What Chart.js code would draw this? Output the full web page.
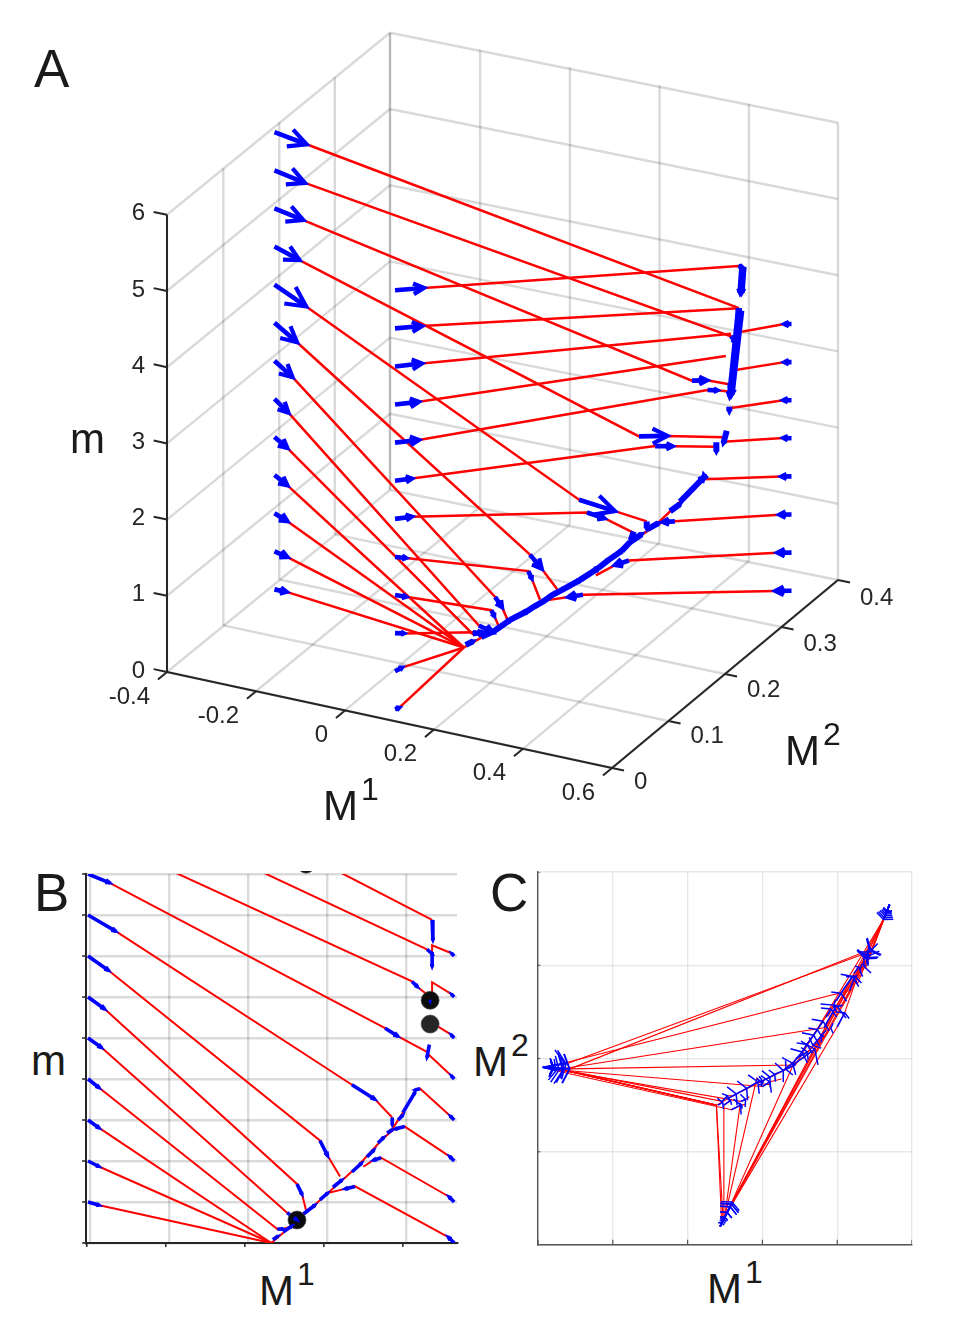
<!DOCTYPE html>
<html>
<head>
<meta charset="utf-8">
<title>Trajectories in M1, M2, m</title>
<script src="https://cdn.jsdelivr.net/npm/chart.js@4/dist/chart.umd.js"></script>
<style>
  html, body { margin: 0; padding: 0; background: #fff; width: 957px; height: 1338px; overflow: hidden; }
  canvas { position: absolute; }
  #chartA { left: 0; top: 0; }
  #chartB { left: 70px; top: 871px; }
  #chartC { left: 530px; top: 864px; }
  .lab { position: absolute; font-family: "Liberation Sans", sans-serif; font-size: 42px; line-height: 1; color: #1a1a1a; white-space: nowrap; }
  .lab span { font-size: 32px; position: relative; top: -20px; margin-left: 3px; }
  .panel { font-size: 53px; }
</style>
</head>
<body>
<canvas id="chartA" width="957" height="850"></canvas>
<canvas id="chartB" width="400" height="384"></canvas>
<canvas id="chartC" width="392" height="390"></canvas>

<div class="lab panel" style="left:34px;top:42px">A</div>
<div class="lab panel" style="left:34px;top:866px">B</div>
<div class="lab panel" style="left:490px;top:866px">C</div>
<div class="lab" style="left:70px;top:418px">m</div>
<div class="lab" style="left:323px;top:785px">M<span>1</span></div>
<div class="lab" style="left:785px;top:730px">M<span>2</span></div>
<div class="lab" style="left:31px;top:1040px">m</div>
<div class="lab" style="left:259px;top:1270px">M<span>1</span></div>
<div class="lab" style="left:473px;top:1041px">M<span>2</span></div>
<div class="lab" style="left:707px;top:1268px">M<span>1</span></div>

<script>
// axis ticks
const m1Ticks = [-0.4, -0.2, 0, 0.2, 0.4, 0.6]
const m2Ticks = [0, 0.1, 0.2, 0.3, 0.4]
const mTicks = [0, 1, 2, 3, 4, 5, 6]
const m1Labels = ['-0.4', '-0.2', '0', '0.2', '0.4', '0.6']
const m2Labels = ['0', '0.1', '0.2', '0.3', '0.4']
const mLabels = ['0', '1', '2', '3', '4', '5', '6']
const zoomM1Ticks = [-0.4, -0.2, 0, 0.2, 0.4]
const zoomMTicks = [0, 0.5, 1, 1.5, 2, 2.5, 3, 3.5, 4, 4.5]

// every path is a list of [M1, M2, m] vertices
// even segments are drawn as blue arrows, odd segments as red lines
const leftPaths = [
  [[-0.387, 0.181, 6], [-0.315, 0.181, 5.93], [0.484, 0.316, 3.94]],
  [[-0.387, 0.181, 5.5], [-0.325, 0.186, 5.38], [0.471, 0.312, 3.58], [0.484, 0.311, 3.53]],
  [[-0.387, 0.181, 5], [-0.33, 0.187, 4.88], [0.433, 0.273, 3.19], [0.448, 0.288, 3.12], [0.479, 0.305, 3.0]],
  [[-0.387, 0.181, 4.5], [-0.331, 0.181, 4.39], [0.365, 0.233, 2.62], [0.398, 0.257, 2.52], [0.471, 0.2995, 2.33]],
  [[-0.387, 0.181, 4], [-0.316, 0.181, 3.8], [0.281, 0.193, 1.93], [0.34, 0.21, 1.75], [0.383, 0.2325, 1.53]],
  [[-0.387, 0.181, 3.5], [-0.334, 0.179, 3.32], [0.2, 0.17, 1.25], [0.22, 0.175, 1.06], [0.251, 0.178, 0.81]],
  [[-0.387, 0.181, 3], [-0.344, 0.179, 2.85], [0.142, 0.154, 0.72], [0.155, 0.156, 0.59], [0.165, 0.159, 0.4]],
  [[-0.387, 0.181, 2.5], [-0.352, 0.178, 2.38], [0.117, 0.145, 0.37], [0.142, 0.15, 0.28]],
  [[-0.387, 0.181, 2], [-0.358, 0.181, 1.89], [0.092, 0.154, 0.17], [0.107, 0.16, 0.17], [0.125, 0.16, 0.2]],
  [[-0.387, 0.181, 1.5], [-0.358, 0.181, 1.4], [0.077, 0.15, 0]],
  [[-0.387, 0.181, 1], [-0.358, 0.181, 0.93], [0.077, 0.15, 0]],
  [[-0.387, 0.181, 0.5], [-0.358, 0.181, 0.46], [0.077, 0.15, 0]],
  [[-0.387, 0.181, 0], [-0.36, 0.181, 0], [0.077, 0.15, 0]]
]
const midPaths = [
  [[0.087, 0.02, 5.5], [0.119, 0.046, 5.41], [0.484, 0.315, 4.5], [0.49, 0.317, 4.48]],
  [[0.087, 0.02, 5], [0.117, 0.044, 4.92], [0.484, 0.316, 3.94]],
  [[0.087, 0.02, 4.5], [0.117, 0.044, 4.43], [0.479, 0.306, 3.66]],
  [[0.087, 0.02, 4], [0.114, 0.041, 3.94], [0.475, 0.3, 3.4]],
  [[0.087, 0.02, 3.5], [0.114, 0.041, 3.44], [0.445, 0.2913, 2.97], [0.458, 0.298, 2.94], [0.479, 0.306, 2.9]],
  [[0.087, 0.02, 3], [0.106, 0.035, 2.96], [0.4, 0.234, 2.53], [0.42, 0.249, 2.46], [0.46, 0.295, 2.22]],
  [[0.087, 0.02, 2.5], [0.106, 0.035, 2.46], [0.29, 0.2, 1.73], [0.32, 0.207, 1.65], [0.365, 0.2237, 1.41]],
  [[0.087, 0.02, 2], [0.099, 0.03, 1.94], [0.185, 0.179, 0.96], [0.2, 0.173, 0.92], [0.22, 0.172, 0.67]],
  [[0.087, 0.02, 1.5], [0.099, 0.03, 1.43], [0.14, 0.149, 0.575], [0.145, 0.15, 0.5], [0.155, 0.151, 0.36]],
  [[0.087, 0.02, 1], [0.097, 0.028, 0.96], [0.097, 0.15, 0.225], [0.115, 0.155, 0.2]],
  [[0.087, 0.02, 0.5], [0.095, 0.026, 0.52], [0.077, 0.15, 0]],
  [[0.087, 0.02, 0], [0.091, 0.024, 0], [0.077, 0.15, 0]]
]
const rightPaths = [
  [[0.54, 0.365, 3.5], [0.533, 0.358, 3.534], [0.484, 0.315, 3.63], [0.484, 0.315, 3.63], [0.484, 0.312, 3.55]],
  [[0.54, 0.365, 3], [0.533, 0.358, 3.034], [0.484, 0.307, 3.18], [0.484, 0.307, 3.18], [0.484, 0.307, 3.06]],
  [[0.54, 0.365, 2.5], [0.532, 0.357, 2.54], [0.479, 0.303, 2.7]],
  [[0.54, 0.365, 2], [0.532, 0.357, 2.043], [0.475, 0.296, 2.3]],
  [[0.54, 0.365, 1.5], [0.53, 0.355, 1.548], [0.454, 0.28, 1.88], [0.441, 0.288, 1.87]],
  [[0.54, 0.365, 1], [0.528, 0.353, 1.057], [0.415, 0.257, 1.42], [0.39, 0.2555, 1.39], [0.375, 0.245, 1.35]],
  [[0.54, 0.365, 0.5], [0.526, 0.351, 0.567], [0.355, 0.223, 1.04], [0.335, 0.214, 1.01], [0.31, 0.2, 0.93]],
  [[0.54, 0.365, 0], [0.524, 0.349, 0.076], [0.289, 0.1936, 0.69], [0.263, 0.1883, 0.66], [0.22, 0.18, 0.61]]
]

// the slow branch the trajectories settle on
const spineM1 = [0.077, 0.145, 0.22, 0.251, 0.294, 0.327, 0.357, 0.378, 0.41, 0.441]
const spineM2 = [0.15, 0.165, 0.18, 0.186, 0.2, 0.22, 0.237, 0.25, 0.27, 0.288]
const spineM = [0, 0.28, 0.61, 0.74, 0.93, 1.1, 1.26, 1.35, 1.59, 1.84]

// arrows along the branch, shared by all panels
const sharedArrows = [
  [[0.081, 0.15, 0.04], [0.094, 0.153, 0.085]],
  [[0.107, 0.157, 0.134], [0.13, 0.162, 0.21]],
  [[0.158, 0.168, 0.354], [0.188, 0.175, 0.464]],
  [[0.2, 0.176, 0.525], [0.22, 0.18, 0.61]],
  [[0.233, 0.183, 0.68], [0.256, 0.187, 0.77]],
  [[0.281, 0.195, 0.866], [0.306, 0.207, 0.976]],
  [[0.319, 0.215, 1.05], [0.337, 0.225, 1.135]],
  [[0.347, 0.231, 1.22], [0.362, 0.24, 1.29]],
  [[0.37, 0.244, 1.34], [0.383, 0.253, 1.38]],
  [[0.398, 0.262, 1.5], [0.41, 0.27, 1.56]],
  [[0.41, 0.27, 1.59], [0.441, 0.288, 1.84]],
  [[0.484, 0.316, 3.94], [0.486, 0.314, 3.69]],
  [[0.484, 0.312, 3.55], [0.484, 0.31, 3.37]],
  [[0.477, 0.3, 2.42], [0.471, 0.299, 2.26]],
  [[0.479, 0.305, 3.02], [0.479, 0.305, 2.95]],
  [[0.383, 0.2325, 1.53], [0.383, 0.2325, 1.44]]
]
// arrows that belong to the middle starting group, left out of panel B
const midArrows = [
  [[0.13, 0.162, 0.21], [0.158, 0.168, 0.354]],
  [[0.188, 0.175, 0.464], [0.2, 0.176, 0.525]],
  [[0.22, 0.18, 0.61], [0.233, 0.183, 0.68]],
  [[0.256, 0.187, 0.77], [0.281, 0.195, 0.866]],
  [[0.306, 0.207, 0.976], [0.319, 0.215, 1.05]],
  [[0.337, 0.225, 1.135], [0.347, 0.231, 1.22]],
  [[0.49, 0.317, 4.48], [0.487, 0.316, 4.14]],
  [[0.492, 0.318, 4.48], [0.489, 0.317, 4.14]],
  [[0.484, 0.316, 3.94], [0.475, 0.307, 2.82]],
  [[0.487, 0.318, 3.9], [0.478, 0.308, 2.85]],
  [[0.479, 0.303, 2.72], [0.479, 0.303, 2.66]],
  [[0.479, 0.306, 2.92], [0.479, 0.306, 2.85]],
  [[0.46, 0.295, 2.28], [0.46, 0.295, 2.16]],
  [[0.365, 0.2237, 1.43], [0.357, 0.225, 1.3]]
]

// black fixed points shown in the M1-m panel
const dotM1 = [0.142, 0.479, 0.479, 0.165]
const dotM = [0.28, 2.96, 2.67, 4.62]

const RED = '#ff0000'
const BLUE = '#0000ff'
const INK = '#262626'

// fixed camera for the 3D panel, with a little convergence towards the back corner
const viewA = p => {
  const a = p[0] + 0.4
  const q = Math.pow(1 - a, 2) * Math.pow(p[1] / 0.4, 2)
  return {
    x: 445 * a + 565 * p[1] - 3 * q,
    y: -96 * a + 470 * p[1] + 76.2 * p[2] - 6 * q
  }
}
const viewB = p => ({ x: p[0] - 0.018, y: p[2] })
// panel C is tilted very slightly, the low M1 side sits higher
const viewC = p => ({ x: p[0], y: p[1] + 0.025 * Math.max(0, -p[0]) })

const lineSet = (points, color, width, order, extra) => Object.assign({
  data: points,
  showLine: true,
  borderColor: color,
  borderWidth: width,
  pointRadius: 0,
  tension: 0,
  order: order
}, extra || {})

// red paths and blue arrows for one panel
const trajectorySets = (view, paths, arrows, redWidth, blueWidth, spineWidth) => {
  const sets = []
  const arrow = (a, b, width, extra) => {
    if (a[0] === b[0] && a[1] === b[1] && a[2] === b[2]) return
    const pa = viewA(a), pb = viewA(b)
    sets.push(lineSet([view(a), view(b)], BLUE, width, 1,
      Object.assign({ head: Math.hypot(pb.x - pa.x, pb.y - pa.y) }, extra)))
  }
  paths.forEach(path => {
    sets.push(lineSet(path.slice(1).map(view), RED, redWidth, 2))
    const narrow = midPaths.includes(path)
    for (let i = 0; i + 1 < path.length; i += 2) arrow(path[i], path[i + 1], blueWidth, { narrow })
  })
  sets.push(lineSet(spineM1.map((v, i) => view([v, spineM2[i], spineM[i]])), RED, redWidth, 2))
  arrows.forEach(pair => arrow(pair[0], pair[1], spineWidth, { spine: true }))
  return sets
}

// draws the two barbs of each blue arrow
const arrowHeads = {
  id: 'arrowHeads',
  afterDatasetsDraw(chart, args, opts) {
    const { ctx, scales: { x, y }, chartArea: area } = chart
    ctx.save()
    ctx.beginPath()
    ctx.rect(area.left, area.top, area.width, area.height)
    ctx.clip()
    ctx.strokeStyle = BLUE
    ctx.lineWidth = opts.width
    chart.data.datasets.forEach(ds => {
      if (!ds.head) return
      const [a, b] = ds.data
      const bx = x.getPixelForValue(b.x), by = y.getPixelForValue(b.y)
      const back = Math.atan2(y.getPixelForValue(a.y) - by, x.getPixelForValue(a.x) - bx)
      let len = Math.min(opts.max, Math.max(opts.min, ds.head * opts.scale))
      if (ds.narrow) len *= 0.7
      if (ds.spine) len = Math.min(opts.spineMax, ds.head * opts.spineScale)
      ctx.beginPath()
      ctx.moveTo(bx + len * Math.cos(back + opts.angle), by + len * Math.sin(back + opts.angle))
      ctx.lineTo(bx, by)
      ctx.lineTo(bx + len * Math.cos(back - opts.angle), by + len * Math.sin(back - opts.angle))
      ctx.stroke()
    })
    ctx.restore()
  }
}

// tick numbers around the 3D box
const boxTickText = {
  id: 'boxTickText',
  afterDraw(chart, args, opts) {
    const { ctx, scales: { x, y } } = chart
    ctx.save()
    ctx.font = '24px "Liberation Sans", sans-serif'
    ctx.fillStyle = INK
    ctx.textBaseline = 'middle'
    opts.items.forEach(item => {
      const p = viewA(item.at)
      ctx.textAlign = item.align
      ctx.fillText(item.text, x.getPixelForValue(p.x) + item.dx, y.getPixelForValue(p.y) + item.dy)
    })
    ctx.restore()
  }
}

const baseOptions = () => ({
  responsive: false,
  animation: false,
  events: [],
  layout: { autoPadding: false },
  plugins: { legend: { display: false }, tooltip: { enabled: false } }
})

// panel A, box grid, axes and ticks come from the tick lists
const boxGrid = []
const gridLine = (a, b) => boxGrid.push(lineSet([viewA(a), viewA(b)], 'rgba(0,0,0,0.15)', 2.4, 4))
m1Ticks.forEach(v => {
  gridLine([v, 0, 0], [v, 0.4, 0])
  gridLine([v, 0.4, 0], [v, 0.4, 6])
})
m2Ticks.forEach(v => {
  gridLine([-0.4, v, 0], [0.6, v, 0])
  gridLine([-0.4, v, 0], [-0.4, v, 6])
})
mTicks.forEach(v => {
  if (v === 0) return
  gridLine([-0.4, 0, v], [-0.4, 0.4, v])
  gridLine([-0.4, 0.4, v], [0.6, 0.4, v])
})

const boxAxes = []
const axisLine = (a, b) => boxAxes.push(lineSet([viewA(a), viewA(b)], INK, 2, 3))
axisLine([-0.4, 0, 0], [0.6, 0, 0])
axisLine([0.6, 0, 0], [0.6, 0.4, 0])
axisLine([-0.4, 0, 0], [-0.4, 0, 6])
m1Ticks.forEach(v => axisLine([v, 0, 0], [v, -0.016, 0]))
m2Ticks.forEach(v => axisLine([0.6, v, 0], [0.627, v, 0]))
mTicks.forEach(v => axisLine([-0.4, 0, v], [-0.43, 0, v]))

const boxText = [
  ...m1Ticks.map((v, i) => ({ at: [v, 0, 0], text: m1Labels[i], align: 'right', dx: -17, dy: 25 })),
  ...m2Ticks.map((v, i) => ({ at: [0.6, v, 0], text: m2Labels[i], align: 'left', dx: 22, dy: 14 + 12 * v })),
  ...mTicks.map((v, i) => ({ at: [-0.4, 0, v], text: mLabels[i], align: 'right', dx: -22, dy: -1 }))
]

const optsA = baseOptions()
optsA.scales = {
  x: { type: 'linear', display: false, min: -167, max: 790 },
  y: { type: 'linear', display: false, min: -178, max: 672 }
}
optsA.plugins.arrowHeads = { scale: 0.58, min: 5, max: 22, angle: 0.47, width: 4.2, spineScale: 0.2, spineMax: 6 }
optsA.plugins.boxTickText = { items: boxText }

new Chart(document.getElementById('chartA'), {
  type: 'scatter',
  data: { datasets: [...boxGrid, ...boxAxes,
    ...trajectorySets(viewA, [...leftPaths, ...midPaths, ...rightPaths], [...sharedArrows, ...midArrows], 2.5, 4.6, 6)] },
  options: optsA,
  plugins: [arrowHeads, boxTickText]
})

// panel B, M1 against m, zoomed in and without the middle group
const flatGrid = (color, width, ticks) => ({
  grid: { color: color, lineWidth: width, drawTicks: false },
  ticks: { display: false },
  afterBuildTicks: s => { s.ticks = ticks.map(v => ({ value: v })) }
})
const tickSets = []
zoomM1Ticks.forEach(v => tickSets.push(lineSet([{ x: v - 0.008, y: 0 }, { x: v - 0.008, y: -0.05 }], INK, 1.5, 3, { clip: false })))
zoomMTicks.forEach(v => tickSets.push(lineSet([{ x: -0.41, y: v }, { x: -0.42, y: v }], INK, 1.5, 3, { clip: false })))

const optsB = baseOptions()
optsB.layout.padding = { left: 16, right: 13, top: 3, bottom: 12 }
optsB.scales = {
  x: Object.assign({ type: 'linear', min: -0.41, max: 0.529, border: { color: INK, width: 2 } }, flatGrid('rgba(0,0,0,0.14)', 2.4, zoomM1Ticks)),
  y: Object.assign({ type: 'linear', min: 0, max: 4.5, border: { color: INK, width: 2 } }, flatGrid('rgba(0,0,0,0.14)', 2.4, zoomMTicks))
}
optsB.plugins.arrowHeads = { scale: 0.25, min: 0, max: 5, angle: 0.35, width: 2.8, spineScale: 0.2, spineMax: 3 }

new Chart(document.getElementById('chartB'), {
  type: 'scatter',
  data: { datasets: [
    { data: dotM1.map((v, i) => viewB([v, 0, dotM[i]])), showLine: false, pointRadius: 9, borderWidth: 1,
      pointBackgroundColor: ['#0c0c0c', '#0c0c0c', '#262626', '#111111'], pointBorderColor: 'rgba(70,70,70,0.7)', pointBorderWidth: 1, order: 0, clip: false },
    ...tickSets,
    ...trajectorySets(viewB, [...leftPaths.slice(0, 12), ...rightPaths], sharedArrows, 2, 3.6, 3.6)
  ] },
  options: optsB,
  plugins: [arrowHeads]
})

// panel C, top view on M1 and M2
const innerTicks = []
m1Ticks.forEach(v => innerTicks.push(lineSet([{ x: v, y: 0 }, { x: v, y: 0.0055 }], '#555555', 1.2, 3)))
m2Ticks.forEach(v => innerTicks.push(lineSet([{ x: -0.4, y: v }, { x: -0.394, y: v }], '#555555', 1.2, 3)))

const optsC = baseOptions()
optsC.layout.padding = { left: 8, right: 10, top: 8, bottom: 9 }
optsC.scales = {
  x: Object.assign({ type: 'linear', min: -0.4, max: 0.6, border: { color: '#555555', width: 1.4 } }, flatGrid('rgba(0,0,0,0.09)', 1.4, m1Ticks)),
  y: Object.assign({ type: 'linear', min: 0, max: 0.4, border: { color: '#555555', width: 1.4 } }, flatGrid('rgba(0,0,0,0.09)', 1.4, m2Ticks))
}
optsC.plugins.arrowHeads = { scale: 0.6, min: 5, max: 16, angle: 1.15, width: 1.5, spineScale: 0.8, spineMax: 12 }

new Chart(document.getElementById('chartC'), {
  type: 'scatter',
  data: { datasets: [...innerTicks,
    ...trajectorySets(viewC, [...leftPaths, ...midPaths, ...rightPaths], [...sharedArrows, ...midArrows], 1.1, 1.6, 1.6)] },
  options: optsC,
  plugins: [arrowHeads]
})
</script>
</body>
</html>
